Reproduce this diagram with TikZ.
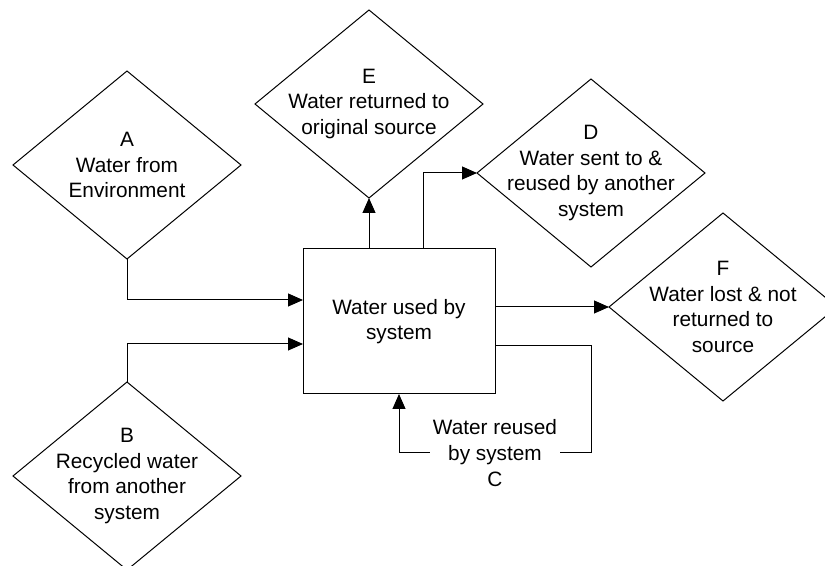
\documentclass[tikz,border=0pt]{standalone}
\usepackage{fontspec}
\setmainfont{Liberation Sans}
\usetikzlibrary{positioning, shapes.geometric, arrows.meta}

\begin{document}
\begin{tikzpicture}[x=0.5pt, y=-0.5pt, line width=0.5pt,
    every node/.style={font=\fontsize{10.4}{12.85}\selectfont, align=center},
    choice/.style={draw, diamond, minimum width=114pt, minimum height=94pt, inner sep=0pt, outer sep=0pt},
    usebox/.style={draw, rectangle, minimum width=96pt, minimum height=72.5pt, inner sep=0pt, outer sep=0pt},
    flow/.style={-{Triangle[length=7.5pt, width=6.5pt]}}]
    \useasboundingbox (0,0) rectangle (825,566);

    % Draw the system box
    \node[usebox] (use) at (399,321.5) {Water used by\\system};

    % Draw sources and destinations
    \node[choice] (A) at (127,165) {};
    \node[choice] (B) at (127,476) {};
    \node[choice] (E) at (369,104) {};
    \node[choice] (D) at (591,173) {};
    \node[choice] (F) at (723,307) {};

    % Text inside the diamonds
    \node (Atext) at (A) {A\\Water from\\Environment};
    \node (Btext) at (B) {B\\Recycled water\\from another\\system};
    \node (Etext) at (E) {E\\Water returned to\\original source};
    \node (Dtext) at (D) {D\\Water sent to \&\\reused by another\\system};
    \node (Ftext) at (F) {F\\Water lost \& not\\returned to\\source};

    % Water coming in
    \draw[flow] (A.south) |- (use.west |- 0,300);
    \draw[flow] (B.north) |- (use.west |- 0,344);

    % Water going out
    \draw[flow] (use.north -| E.south) -- (E.south);
    \draw[flow] (use.north -| 423,0) |- (D.west);
    \draw[flow] (use.east |- F.west) -- (F.west);

    % Water reused by the system
    \coordinate (loop) at (591,453);
    \draw[flow] (use.east |- 0,346) -| (loop) -- node[fill=white, inner sep=1.5pt] (Ctext) {Water reused\\by system\\C} (loop -| use.south) -- (use.south);
\end{tikzpicture}
\end{document}
